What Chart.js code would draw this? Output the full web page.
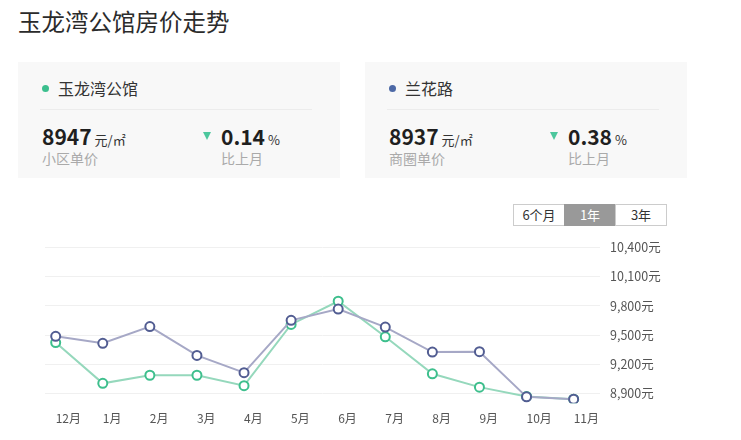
<!DOCTYPE html>
<html>
<head>
<meta charset="utf-8">
<script src="https://cdn.jsdelivr.net/npm/chart.js@4/dist/chart.umd.min.js"></script>
<style>
  html, body { margin: 0; padding: 0; background: #fff; }
  body { width: 741px; height: 440px; position: relative; overflow: hidden;
         font-family: "Noto Sans CJK SC", "Noto Sans", sans-serif; color: #333; }
  .title { position: absolute; left: 18px; top: 6px; font-size: 23.5px; line-height: 30px; color: #2b2b2b; }
  .card { position: absolute; top: 62px; width: 322px; height: 116px; background: #f8f8f8; }
  .card > * { position: absolute; white-space: nowrap; }
  .dot { width: 7px; height: 7px; border-radius: 50%; left: 24px; top: 22.5px; }
  .name { left: 40px; top: 16px; font-size: 16px; line-height: 20px; color: #333; }
  .divider { left: 22px; width: 272px; top: 47px; height: 1px; background: #ececec; }
  .num { top: 64px; font-size: 21px; line-height: 21px; font-weight: bold; color: #1f1f1f; }
  .num small { font-size: 13px; font-weight: normal; color: #333; margin-left: 3px; }
  .sub { top: 87px; font-size: 14px; line-height: 18px; color: #aaa; }
  .tri { left: 185px; top: 70px; width: 0; height: 0;
         border-left: 4.5px solid transparent; border-right: 4.5px solid transparent;
         border-top: 8px solid #4cc79d; }
  .toggle { position: absolute; left: 514px; top: 204px; display: flex; }
  .toggle span { width: 50px; height: 20px; line-height: 20px; text-align: center; font-size: 13px;
                 border: 1px solid #ccc; margin-left: -1px; color: #333; background: #fff; }
  .toggle span.on { background: #999; border-color: #999; color: #fff; }
  #wrap { position: absolute; left: 0; top: 230px; width: 741px; height: 210px; }
</style>
</head>
<body>
<div class="title">玉龙湾公馆房价走势</div>

<div class="card" style="left:18px">
  <div class="dot" style="background:#3cbf8e"></div>
  <div class="name">玉龙湾公馆</div>
  <div class="divider"></div>
  <div class="num" style="left:24px">8947<small>元/㎡</small></div>
  <div class="sub" style="left:24px">小区单价</div>
  <div class="tri"></div>
  <div class="num" style="left:203px">0.14<small>%</small></div>
  <div class="sub" style="left:203px">比上月</div>
</div>

<div class="card" style="left:365px">
  <div class="dot" style="background:#4d69a6"></div>
  <div class="name">兰花路</div>
  <div class="divider"></div>
  <div class="num" style="left:24px">8937<small>元/㎡</small></div>
  <div class="sub" style="left:24px">商圈单价</div>
  <div class="tri"></div>
  <div class="num" style="left:203px">0.38<small>%</small></div>
  <div class="sub" style="left:203px">比上月</div>
</div>

<div class="toggle"><span>6个月</span><span class="on">1年</span><span>3年</span></div>

<div id="wrap"><canvas id="chart"></canvas></div>

<script>
// months shown on the x axis
const months = ["12月", "1月", "2月", "3月", "4月", "5月", "6月", "7月", "8月", "9月", "10月", "11月"];
// 兰花路 (商圈) monthly price
const districtPrices = [9488, 9416, 9588, 9292, 9115, 9652, 9768, 9583, 9326, 9330, 8866, 8842];
// 玉龙湾公馆 (小区) monthly price
const estatePrices = [9424, 9005, 9088, 9088, 8981, 9610, 9848, 9483, 9103, 8966, 8870, 8842];
// y axis grid values
const yTicks = [8900, 9200, 9500, 9800, 10100, 10400];

const toPoints = (vals) => vals.map((v, i) => ({ x: i, y: v }));

new Chart(document.getElementById("chart"), {
  type: "line",
  data: {
    datasets: [
      {
        label: "兰花路",
        data: toPoints(districtPrices),
        borderColor: "#a6a8c6",
        borderWidth: 2,
        pointRadius: 4.5,
        pointBorderWidth: 2,
        pointBorderColor: "#525d92",
        pointBackgroundColor: "#fff",
        tension: 0,
      },
      {
        label: "玉龙湾公馆",
        data: toPoints(estatePrices),
        borderColor: "#95d8bc",
        borderWidth: 2,
        pointRadius: 4.5,
        pointBorderWidth: 2,
        pointBorderColor: "#3ebf8d",
        pointBackgroundColor: "#fff",
        tension: 0,
      },
    ],
  },
  options: {
    responsive: true,
    maintainAspectRatio: false,
    animation: false,
    layout: { padding: { left: 45, top: 13.3, right: 0, bottom: 10 } },
    plugins: { legend: { display: false }, tooltip: { enabled: false } },
    scales: {
      x: {
        type: "linear",
        min: -0.227,
        max: 11.56,
        afterBuildTicks: (s) => { s.ticks = months.map((_, i) => ({ value: i })); },
        afterFit: (s) => { s.height = 26.7; },
        grid: { display: false, drawTicks: false },
        border: { display: false },
        ticks: {
          align: "start",
          padding: 8,
          autoSkip: false,
          maxRotation: 0,
          color: "#555",
          font: { family: "Noto Sans CJK SC", size: 12 },
          callback: (v) => months[v],
        },
      },
      y: {
        position: "right",
        min: 8800,
        max: 10400,
        afterBuildTicks: (s) => { s.ticks = yTicks.map((v) => ({ value: v })); },
        afterFit: (s) => { s.width = 141; },
        grid: { color: "#f0f0f0", drawTicks: false },
        border: { display: false },
        ticks: {
          padding: 10,
          color: "#555",
          font: { family: "Noto Sans CJK SC", size: 12.5 },
          callback: (v) => v.toLocaleString("en-US") + "元",
        },
      },
    },
  },
});
</script>
</body>
</html>
